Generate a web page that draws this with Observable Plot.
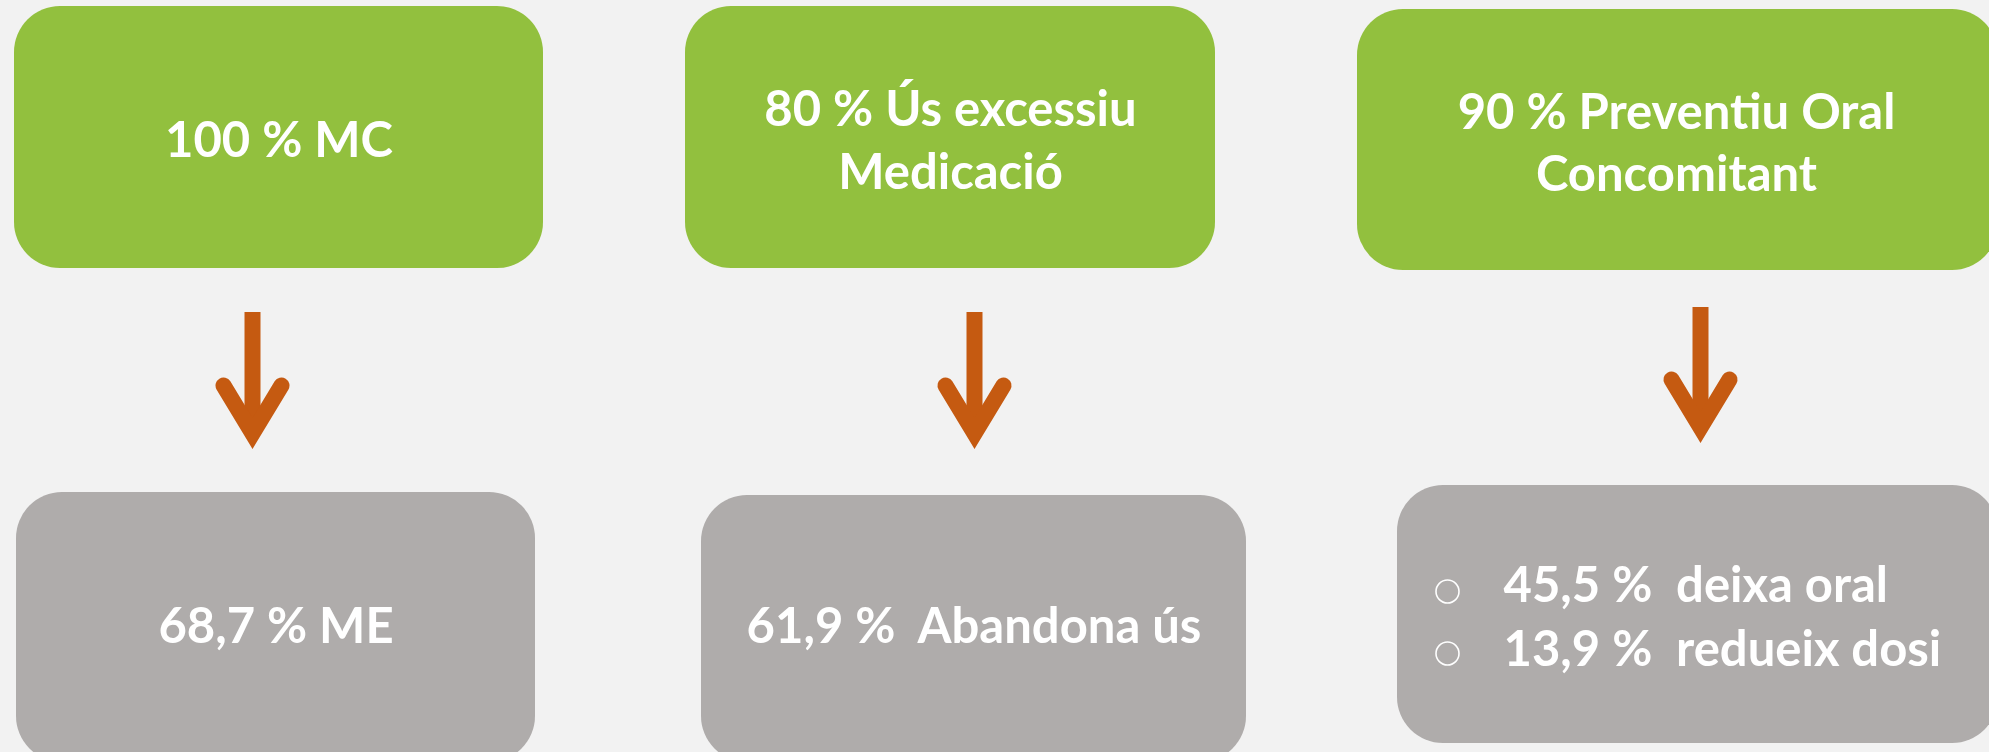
<!DOCTYPE html>
<html><head><meta charset="utf-8">
<script src="https://cdn.jsdelivr.net/npm/d3@7"></script>
<script src="https://cdn.jsdelivr.net/npm/@observablehq/plot@0.6"></script>
<style>html,body{margin:0;padding:0;background:#f2f2f2;overflow:hidden}</style>
</head><body><div id="chart"></div>
<script>
// ---- content (data) ----
const topLabels = ["100 % MC", "80 % Ús excessiu\nMedicació", "90 % Preventiu Oral\nConcomitant"];
const bottomLabels = ["68,7 % ME", "61,9 %\u00a0 Abandona ús"];
const bulletLabels = ["45,5 %\u00a0 deixa oral", "13,9 %\u00a0 redueix dosi"];

// ---- layout frame (pixels of the slide) ----
const W = 1989, H = 752;
const topBoxes = [
  {x1: 14, x2: 543, y1: 6, y2: 268},
  {x1: 685, x2: 1215, y1: 6, y2: 268},
  {x1: 1357, x2: 1998, y1: 9, y2: 270}
];
const bottomBoxes = [
  {x1: 16, x2: 535, y1: 492, y2: 762},
  {x1: 701, x2: 1246, y1: 495, y2: 762},
  {x1: 1397, x2: 1998, y1: 485, y2: 743}
];
const arrowX = [252, 974, 1700];
const arrowTop = [312, 312, 307];
const arrowVertex = [433, 433, 427];
const arrowWingY = [385, 385, 379];
const arrowHalf = 29;
const bulletX = 1447, bulletTextX = 1503;
const bulletTextY = [586, 650];
const bulletDotY = [591, 653];
const bottomTextY = 627;

const FONT = "Lato, 'Open Sans', sans-serif";
const FS = 49;
const green = "#92c03e", grey = "#afacab", orange = "#c55a11";

const topData = topBoxes.map((b, i) => ({...b, label: topLabels[i], cx: (b.x1 + b.x2) / 2, cy: (b.y1 + b.y2) / 2}));
topData[2].cx = (topBoxes[2].x1 + 1995) / 2;
const botData = bottomBoxes.map((b, i) => ({...b, label: bottomLabels[i] ?? "", cx: (b.x1 + b.x2) / 2, cy: bottomTextY}));
const shafts = arrowX.map((x, i) => ({x, y1: arrowTop[i], y2: arrowVertex[i]}));
const heads = arrowX.flatMap((x, i) => [
  {a: i, x: x - arrowHalf, y: arrowWingY[i]},
  {a: i, x: x, y: arrowVertex[i]},
  {a: i, x: x + arrowHalf, y: arrowWingY[i]}
]);
const bullets = bulletLabels.map((t, i) => ({label: t, ty: bulletTextY[i], dy: bulletDotY[i]}));

const chart = Plot.plot({
  width: W, height: H,
  margin: 0,
  x: {type: "linear", domain: [0, W], range: [0, W], axis: null},
  y: {type: "linear", domain: [0, H], range: [0, H], axis: null},
  style: {background: "#f2f2f2", fontFamily: FONT, overflow: "hidden"},
  marks: [
    Plot.rect(topData, {x1: "x1", x2: "x2", y1: "y1", y2: "y2", fill: green, rx: 46}),
    Plot.rect(botData, {x1: "x1", x2: "x2", y1: "y1", y2: "y2", fill: grey, rx: 46}),
    Plot.ruleX(shafts, {x: "x", y1: "y1", y2: "y2", stroke: orange, strokeWidth: 16}),
    Plot.line(heads, {x: "x", y: "y", z: "a", stroke: orange, strokeWidth: 16, strokeLinejoin: "miter", strokeLinecap: "round", strokeMiterlimit: 10}),
    Plot.text(topData, {x: "cx", y: "cy", text: "label", fill: "white", fontSize: FS, fontWeight: "bold", lineHeight: 1.27}),
    Plot.text(botData, {x: "cx", y: "cy", text: "label", fill: "white", fontSize: FS, fontWeight: "bold"}),
    Plot.dot(bullets, {x: bulletX, y: "dy", r: 11.5, stroke: "white", strokeWidth: 1.6, fill: "none"}),
    Plot.text(bullets, {x: bulletTextX, y: "ty", text: "label", textAnchor: "start", fill: "white", fontSize: FS, fontWeight: "bold"})
  ]
});
document.getElementById("chart").appendChild(chart);
</script>
</body></html>
